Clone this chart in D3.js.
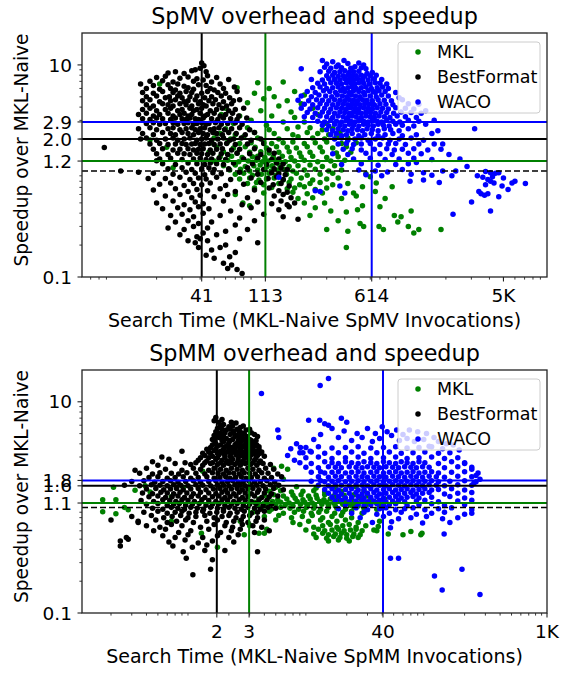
<!DOCTYPE html>
<html>
<head>
<meta charset="utf-8">
<script src="https://cdn.jsdelivr.net/npm/d3@7"></script>
<style>
body { margin: 0; background: #fff; }
svg { display: block; }
text { font-family: "DejaVu Sans", sans-serif; fill: #000; }
</style>
</head>
<body>
<script>
// series order: MKL, BestFormat, WACO
const seriesNames = ["MKL", "BestFormat", "WACO"];
const seriesColors = ["#008000", "#000000", "#0000ff"];

// ---------- SpMV panel ----------
const spmvMedX = [113, 41, 614];
const spmvMedY = [1.24, 2.0, 2.9];
const spmvXTicks = [41, 113, 614, 5000];
const spmvXLabels = ["41", "113", "614", "5K"];
const spmvYTicks = [0.1, 1.24, 2.0, 2.9, 10];
const spmvYLabels = ["0.1", "1.2", "2.0", "2.9", "10"];

const spmvMkl = [
[21,6.6],[100,6.8],[150,6.9],[72,6.1],[120,6.0],[180,5.6],[95,5.4],[210,5.2],[130,5.0],[110,4.8],[160,4.6],[85,4.4],[200,4.3],[140,4.1],[60,3.9],[240,3.9],[105,3.7],[170,3.6],[56,3.4],[75,3.3],[125,3.3],[260,3.4],[180,3.2],[90,3.0],[150,2.9],[210,2.9],[68,2.8],[300,2.8],[115,2.7],[190,2.6],[18,1.96],[23.5,1.67],[26,1.07],
[60,2.5],[85,2.55],[120,2.45],[160,2.5],[230,2.55],[280,2.45],[330,2.5],
[55,2.25],[70,2.2],[95,2.3],[130,2.25],[175,2.2],[220,2.3],[260,2.25],[310,2.2],[370,2.3],
[50,2.05],[65,2.0],[80,2.1],[100,2.05],[140,2.0],[190,2.1],[240,2.05],[290,2.0],[350,2.1],[420,2.05],
[48,1.85],[62,1.88],[75,1.82],[90,1.85],[110,1.88],[125,1.82],[150,1.85],[175,1.88],[210,1.82],[250,1.85],[300,1.88],[380,1.82],[480,1.85],
[52,1.67],[68,1.65],[82,1.69],[96,1.67],[115,1.65],[135,1.69],[160,1.67],[185,1.65],[220,1.69],[270,1.67],[330,1.65],[410,1.69],
[46,1.5],[58,1.52],[72,1.48],[88,1.5],[105,1.52],[120,1.48],[140,1.5],[165,1.52],[195,1.48],[230,1.5],[280,1.52],[350,1.48],[440,1.5],
[55,1.36],[66,1.38],[78,1.34],[92,1.36],[100,1.38],[112,1.34],[128,1.36],[148,1.38],[170,1.34],[200,1.36],[240,1.38],[300,1.34],[360,1.36],
[50,1.24],[62,1.26],[74,1.22],[86,1.24],[98,1.26],[108,1.22],[118,1.24],[132,1.26],[155,1.22],[180,1.24],[210,1.26],[260,1.22],[320,1.24],[400,1.26],
[58,1.12],[70,1.14],[82,1.1],[94,1.12],[104,1.14],[116,1.1],[126,1.12],[142,1.14],[165,1.1],[190,1.12],[230,1.14],[280,1.1],[340,1.12],
[64,1.02],[76,1.04],[88,1.0],[100,1.02],[112,1.04],[124,1.0],[138,1.02],[152,1.04],[175,1.0],[210,1.02],[250,1.04],[310,1.0],[380,1.02],
[70,0.93],[80,0.95],[92,0.91],[106,0.93],[120,0.95],[134,0.91],[158,0.93],[185,0.95],[220,0.91],[270,0.93],[330,0.95],
[75,0.84],[88,0.86],[102,0.82],[115,0.84],[130,0.86],[150,0.82],[170,0.84],[200,0.86],[240,0.82],[300,0.84],[360,0.86],
[85,0.76],[98,0.78],[110,0.74],[140,0.76],[165,0.78],[195,0.74],[230,0.76],[270,0.78],[330,0.74],[420,0.76],[660,0.77],
[95,0.69],[125,0.7],[160,0.68],[180,0.69],[210,0.71],[250,0.67],[300,0.69],[530,0.71],[850,0.71],[70,0.6],
[110,0.62],[175,0.63],[220,0.61],[280,0.62],[460,0.62],[650,0.64],
[190,0.55],[240,0.56],[480,0.58],[760,0.55],[380,0.55],
[79,0.5],[88,0.47],[210,0.5],[290,0.5],[530,0.47],
[320,0.42],[360,0.34],[410,0.41],[490,0.43],[510,0.32],[540,0.3],[300,0.28],[420,0.27],[410,0.19],[700,0.46],[740,0.28],[690,0.3],[880,0.38],[980,0.37],[1150,0.42],[930,0.33],[1100,0.3],[1200,0.26],[1300,0.28],[1850,0.28],[560,0.94],[600,0.88],[250,0.45],[230,0.38]
];

const spmvBest = [
[41,10.4],[42.5,9.8],[40,9.3],[37,9.0],[44,8.6],[24,8.4],[27,8.6],[31,8.3],[35,8.8],
[20,7.6],[23,7.8],[29,7.5],[33,7.7],[38,7.4],[45,7.9],[52,7.6],
[18,7.0],[22,7.1],[26,6.9],[36,7.0],[42,7.2],[48,6.9],[63,7.3],
[15.5,6.6],[19,6.4],[24,6.5],[28,6.6],[31,6.3],[39,6.5],[44,6.4],[55,6.6],[69,6.2],
[17,6.0],[21,5.9],[25,6.0],[27,5.8],[33,6.1],[36,5.9],[47,6.0],[50,5.8],[58,6.0],
[16,5.5],[19,5.4],[22,5.6],[26,5.5],[29,5.4],[32,5.6],[35,5.5],[41,5.4],[45,5.6],[53,5.5],[60,5.4],[72,5.6],
[17,5.0],[20,5.1],[23,4.9],[24.5,5.0],[28,5.1],[30,4.9],[34,5.0],[38,5.1],[43,4.9],[48,5.0],[56,5.1],[64,4.9],
[16,4.6],[18,4.7],[21,4.5],[25,4.6],[27,4.7],[31,4.5],[33,4.6],[37,4.7],[40,4.5],[46,4.6],[51,4.7],[58,4.5],[68,4.6],[75,4.7],
[17,4.2],[19,4.1],[22,4.3],[24,4.2],[26,4.1],[29,4.3],[32,4.2],[35,4.1],[39,4.3],[42,4.2],[44,4.1],[49,4.3],[54,4.2],[61,4.1],[66,4.3],
[16,3.8],[18,3.9],[20,3.7],[23,3.8],[25,3.9],[28,3.7],[30,3.8],[34,3.9],[36,3.7],[38,3.8],[41,3.9],[47,3.7],[52,3.8],[57,3.9],[63,3.7],[70,3.8],[80,3.9],
[15,3.4],[17,3.5],[19,3.3],[21,3.4],[24,3.5],[26,3.3],[29,3.4],[31,3.5],[33,3.3],[35,3.4],[40,3.5],[43,3.3],[45,3.4],[50,3.5],[55,3.3],[60,3.4],[67,3.5],[74,3.3],
[16,3.1],[18,3.05],[20,3.15],[22,3.1],[25,3.05],[27,3.15],[30,3.1],[32,3.05],[34,3.15],[37,3.1],[39,3.05],[42,3.15],[48,3.1],[53,3.05],[58,3.15],[65,3.1],[72,3.05],[84,3.15],
[17,2.8],[19,2.85],[21,2.75],[23,2.8],[26,2.85],[28,2.75],[31,2.8],[33,2.85],[36,2.75],[38,2.8],[41,2.85],[44,2.75],[46,2.8],[51,2.85],[56,2.75],[62,2.8],[70,2.85],[78,2.75],
[15,2.5],[18,2.55],[20,2.45],[24,2.5],[26,2.55],[29,2.45],[32,2.5],[35,2.55],[37,2.45],[40,2.5],[43,2.55],[47,2.45],[50,2.5],[54,2.55],[59,2.45],[66,2.5],[75,2.55],[88,2.45],
[16,2.25],[19,2.2],[22,2.3],[25,2.25],[27,2.2],[30,2.3],[33,2.25],[36,2.2],[39,2.3],[42,2.25],[45,2.2],[49,2.3],[52,2.25],[57,2.2],[63,2.3],[71,2.25],[82,2.2],[95,2.3],
[15.5,2.0],[17,2.05],[20,1.95],[23,2.0],[26,2.05],[28,1.95],[31,2.0],[34,2.05],[38,1.95],[41,2.0],[44,2.05],[48,1.95],[53,2.0],[58,2.05],[64,1.95],[68,2.0],[77,2.05],[90,1.95],[105,2.0],
[18,1.8],[21,1.82],[24,1.78],[27,1.8],[30,1.82],[32,1.78],[35,1.8],[37,1.82],[40,1.78],[43,1.8],[46,1.82],[50,1.78],[55,1.8],[61,1.82],[70,1.78],[85,1.8],[110,1.82],
[19,1.6],[22,1.62],[26,1.58],[29,1.6],[33,1.62],[36,1.58],[39,1.6],[42,1.62],[47,1.58],[52,1.6],[57,1.62],[66,1.58],[75,1.6],[95,1.62],[120,1.58],
[20,1.45],[24,1.43],[28,1.47],[31,1.45],[34,1.43],[38,1.47],[41,1.45],[45,1.43],[49,1.47],[56,1.45],[62,1.43],[72,1.47],[88,1.45],[105,1.43],[130,1.47],
[21,1.3],[25,1.32],[30,1.28],[36,1.3],[40,1.32],[44,1.28],[48,1.3],[54,1.32],[60,1.28],[80,1.3],[100,1.32],[125,1.28],[140,1.3],
[22,1.17],[27,1.15],[33,1.19],[38,1.17],[43,1.15],[47,1.19],[52,1.17],[58,1.15],[68,1.19],[92,1.17],[115,1.15],[135,1.19],[150,1.17],
[24,1.05],[30,1.07],[35,1.03],[41,1.05],[46,1.07],[50,1.03],[63,1.05],[85,1.07],[110,1.03],[130,1.05],[145,1.07],[160,1.03],
[8.7,1.66],[11.3,1.0],[15,0.97],[17.5,0.85],[20,1.25],
[19,0.95],[26,0.93],[32,0.97],[37,0.95],[43,0.92],[49,0.96],[56,0.94],[75,0.97],[100,0.93],[125,0.96],[140,0.94],[155,0.92],
[23,0.85],[29,0.87],[34,0.83],[39,0.86],[44,0.84],[52,0.87],[65,0.83],[90,0.86],[118,0.85],[135,0.88],[150,0.83],
[21,0.75],[25,0.77],[31,0.73],[36,0.76],[41,0.74],[47,0.77],[60,0.73],[80,0.75],[105,0.78],[128,0.74],[145,0.76],[165,0.72],
[19,0.66],[27,0.68],[33,0.64],[38,0.67],[45,0.65],[55,0.68],[70,0.64],[95,0.66],[120,0.69],[140,0.65],[160,0.63],
[23,0.58],[29,0.6],[35,0.56],[40,0.59],[50,0.57],[62,0.6],[85,0.56],[130,0.58],[150,0.6],[170,0.56],
[20,0.5],[26,0.52],[31,0.48],[37,0.51],[42,0.49],[58,0.52],[78,0.48],[100,0.51],[125,0.49],[145,0.52],[160,0.48],[180,0.5],
[22,0.44],[28,0.45],[34,0.43],[39,0.46],[46,0.44],[65,0.42],[90,0.45],[140,0.43],[165,0.46],
[25,0.38],[30,0.39],[36,0.37],[42,0.4],[55,0.38],[75,0.36],[110,0.39],[150,0.37],[190,0.35],
[27,0.33],[33,0.34],[39,0.32],[48,0.33],[70,0.31],[95,0.34],
[24,0.29],[31,0.28],[36,0.3],[45,0.29],[60,0.27],[85,0.28],
[29,0.25],[38,0.24],[42,0.26],[52,0.25],[75,0.23],
[33,0.22],[37,0.21],[40,0.23],[45,0.22],[60,0.2],[100,0.21],
[39,0.19],[48,0.18],[55,0.19],[70,0.17],
[44,0.16],[50,0.15],[64,0.155],
[58,0.135],[66,0.13],
[62,0.12],[72,0.118],[78,0.108]
];

const spmvWaco = [
[280,11.0],[330,10.7],[395,11.0],
[300,10.2],[360,10.0],[420,10.3],[500,10.4],[540,10.0],
[200,9.2],[290,9.5],[320,9.3],[350,9.6],[380,9.4],[440,9.3],[470,9.6],[520,9.4],[560,9.2],
[270,8.6],[310,8.7],[340,8.5],[370,8.6],[400,8.8],[430,8.5],[460,8.6],[500,8.7],[570,8.3],[620,8.5],
[300,7.9],[330,8.0],[360,7.8],[390,7.9],[420,8.0],[450,7.8],[480,7.9],[520,8.0],[550,7.8],[600,7.9],[660,8.0],
[235,7.3],[280,7.2],[310,7.4],[340,7.3],[370,7.2],[400,7.4],[430,7.3],[460,7.2],[490,7.4],[530,7.3],[580,7.2],[640,7.4],[720,7.3],
[260,6.7],[290,6.6],[320,6.8],[350,6.7],[380,6.6],[410,6.8],[440,6.7],[470,6.6],[500,6.8],[540,6.7],[590,6.6],[650,6.8],[700,6.7],[780,6.6],
[240,6.1],[270,6.2],[300,6.0],[330,6.1],[360,6.2],[390,6.0],[420,6.1],[450,6.2],[480,6.0],[520,6.1],[560,6.2],[610,6.0],[670,6.1],[730,6.2],[800,6.0],
[220,5.6],[250,5.5],[285,5.7],[315,5.6],[345,5.5],[375,5.7],[400,5.6],[430,5.5],[460,5.7],[500,5.6],[540,5.5],[580,5.7],[630,5.6],[650,5.5],[690,5.7],[760,5.6],[900,5.5],
[200,5.1],[235,5.0],[265,5.2],[295,5.1],[325,5.0],[355,5.2],[385,5.1],[415,5.0],[445,5.2],[475,5.1],[510,5.0],[550,5.2],[600,5.1],[660,5.0],[720,5.2],[800,5.1],[950,4.9],
[190,4.65],[225,4.6],[255,4.7],[280,4.65],[310,4.6],[340,4.7],[370,4.65],[400,4.6],[430,4.7],[460,4.65],[490,4.6],[530,4.7],[570,4.65],[620,4.6],[680,4.7],[750,4.65],[840,4.6],[1000,4.7],
[210,4.25],[240,4.2],[270,4.3],[300,4.25],[330,4.2],[360,4.3],[390,4.25],[420,4.2],[450,4.3],[480,4.25],[510,4.2],[550,4.3],[590,4.25],[640,4.2],[700,4.3],[770,4.25],[860,4.2],[1100,4.3],[1300,4.25],
[200,3.9],[230,3.85],[260,3.95],[290,3.9],[320,3.85],[350,3.95],[380,3.9],[410,3.85],[440,3.95],[470,3.9],[500,3.85],[540,3.95],[580,3.9],[620,3.85],[670,3.95],[730,3.9],[800,3.85],[900,3.95],[1050,3.9],[1200,3.85],[1450,3.7],
[220,3.55],[250,3.5],[280,3.6],[310,3.55],[340,3.5],[370,3.6],[400,3.55],[430,3.5],[460,3.6],[490,3.55],[520,3.5],[560,3.6],[600,3.55],[650,3.5],[710,3.6],[780,3.55],[870,3.5],[980,3.6],[1150,3.55],[1350,3.5],
[210,3.25],[240,3.2],[270,3.3],[300,3.25],[330,3.2],[360,3.3],[390,3.25],[420,3.2],[450,3.3],[480,3.25],[520,3.2],[560,3.3],[600,3.25],[640,3.2],[690,3.3],[750,3.25],[820,3.2],[920,3.3],[1050,3.25],[1250,3.2],[1660,3.0],
[260,2.95],[290,2.9],[320,3.0],[350,2.95],[380,2.9],[410,3.0],[440,2.95],[470,2.9],[500,3.0],[540,2.95],[580,2.9],[620,3.0],[670,2.95],[720,2.9],[780,3.0],[860,2.95],[960,2.9],[1100,3.0],[1300,2.95],
[280,2.7],[310,2.65],[340,2.75],[370,2.7],[400,2.65],[430,2.75],[460,2.7],[500,2.65],[540,2.75],[580,2.7],[630,2.65],[680,2.75],[740,2.7],[810,2.65],[900,2.75],[1000,2.7],[1200,2.65],[1450,2.75],[3160,2.5],
[300,2.45],[330,2.4],[360,2.5],[390,2.45],[420,2.4],[450,2.5],[490,2.45],[530,2.4],[570,2.5],[620,2.45],[680,2.4],[750,2.5],[830,2.45],[950,2.4],[1100,2.5],[1760,2.4],
[320,2.2],[350,2.25],[380,2.15],[410,2.2],[450,2.25],[500,2.15],[550,2.2],[610,2.25],[680,2.15],[760,2.2],[860,2.25],[1000,2.15],[1250,2.2],[1600,2.25],
[340,2.0],[380,2.05],[420,1.95],[470,2.0],[520,2.05],[580,1.95],[650,2.0],[730,2.05],[820,1.95],[950,2.0],[1150,2.05],[1400,1.95],
[360,1.8],[410,1.82],[460,1.78],[520,1.8],[600,1.82],[700,1.78],[800,1.8],[900,1.82],[1050,1.78],[1300,1.8],[1660,1.8],[1900,1.8],
[390,1.6],[450,1.62],[520,1.58],[640,1.6],[780,1.62],[880,1.58],[1000,1.6],[1200,1.62],[1500,1.58],[1850,1.6],
[330,1.45],[420,1.43],[560,1.47],[700,1.45],[850,1.43],[1100,1.47],[1350,1.45],[2100,1.43],
[460,1.3],[600,1.32],[760,1.28],[950,1.3],[1200,1.32],[1600,1.28],[2500,1.3],
[380,1.15],[520,1.17],[680,1.13],[900,1.15],[1100,1.17],[1250,1.2],[2800,1.1],
[500,1.02],[650,1.0],[790,0.98],[1000,1.03],[1400,0.96],[1900,1.0],[2340,1.0],
[140,0.87],[560,0.92],[720,0.9],[1150,0.93],[1600,0.91],[2200,0.9],
[1130,0.8],[1400,0.82],[1800,0.78],[250,0.65],[270,0.64],[400,0.62],[370,0.72],
[3380,0.64],[3760,0.99],[3760,0.74],[4070,0.96],[4400,0.95],[4640,0.96],[3600,0.87],[3900,0.83],[4070,0.8],[4300,0.77],[4890,0.72],[5380,0.67],[5730,0.77],[7090,0.76],[4640,0.57],[4070,0.42],[3010,0.51],[2240,0.39],[3700,0.59],[3900,0.61],[3500,0.61],[3300,0.9],[4200,0.88],[5000,0.86],[6000,0.8]
];

// ---------- SpMM panel ----------
const spmmMedX = [2.97, 1.58, 40.6];
const spmmMedY = [1.1, 1.6, 1.8];
const spmmXTicks = [1.58, 2.97, 40.6, 1000];
const spmmXLabels = ["2", "3", "40", "1K"];
const spmmYTicks = [0.1, 1.1, 1.6, 1.8, 10];
const spmmYLabels = ["0.1", "1.1", "1.6", "1.8", "10"];

const spmmMkl = [
[0.17,1.18],[0.17,0.91],[0.21,1.55],[0.22,1.18],[0.22,0.87],[0.26,1.0],[0.28,0.95],[0.32,1.45],[0.39,1.6],[0.43,1.4],[0.65,0.74],[0.65,1.26],[0.82,1.55],[1.2,2.2],[1.17,0.57],[1.6,0.42],[2.7,0.55],[3.0,0.68],[3.6,0.57],[4.0,0.57],[4.2,0.62],[4.8,2.35],[5.6,2.45],[6.3,2.3],[5.8,1.85],
[5.0,1.55],[7.5,1.57],[11,1.53],[16,1.55],[24,1.57],
[4.4,1.42],[5.5,1.44],[6.8,1.4],[8.5,1.42],[10.5,1.44],[13,1.4],[18,1.42],[28,1.44],
[4.0,1.3],[4.8,1.32],[5.8,1.28],[7.0,1.3],[8.2,1.32],[9.5,1.28],[11,1.3],[13,1.32],[15.5,1.28],[19,1.3],[23,1.32],[30,1.28],
[3.6,1.2],[4.3,1.22],[5.2,1.18],[6.2,1.2],[7.3,1.22],[8.5,1.18],[9.8,1.2],[11.2,1.22],[12.8,1.18],[14.5,1.2],[16.5,1.22],[19,1.18],[22,1.2],[26,1.22],[32,1.18],[42,1.2],
[3.3,1.12],[4.0,1.1],[4.7,1.14],[5.5,1.12],[6.5,1.1],[7.6,1.14],[8.8,1.12],[10.2,1.1],[11.8,1.14],[13.5,1.12],[15.5,1.1],[17.5,1.14],[20,1.12],[23,1.1],[27,1.14],[35,1.12],
[3.5,1.05],[4.2,1.03],[5.0,1.07],[6.0,1.05],[7.0,1.03],[8.1,1.07],[9.3,1.05],[10.7,1.03],[12.3,1.07],[14,1.05],[16,1.03],[18.5,1.07],[21.5,1.05],[25,1.03],[30,1.07],[38,1.05],
[3.8,0.98],[4.6,0.96],[5.5,1.0],[6.6,0.98],[7.8,0.96],[9.1,1.0],[10.5,0.98],[12,0.96],[14,1.0],[16.5,0.98],[19.5,0.96],[23,1.0],[28,0.98],[36,0.96],
[3.2,0.9],[4.4,0.92],[5.8,0.88],[7.2,0.9],[8.6,0.92],[10,0.88],[11.6,0.9],[13.5,0.92],[15.8,0.88],[18.5,0.9],[22,0.92],[27,0.88],
[4.0,0.82],[5.3,0.84],[6.8,0.8],[8.4,0.82],[10.2,0.84],[12.5,0.8],[15,0.82],[18,0.84],[22,0.8],
[2.5,0.74],[5.0,0.76],[7.0,0.72],[9.5,0.74],[12,0.76],[14,0.72],[16.5,0.74],[19.5,0.76],[25,0.72],[38,0.74],
[3.0,0.67],[8.0,0.69],[10.5,0.65],[12.5,0.67],[14.5,0.69],[16.5,0.65],[18.5,0.67],[21,0.69],[24,0.65],[29,0.67],[37,0.66],
[9.0,0.61],[11.5,0.62],[13,0.6],[15,0.61],[17,0.62],[19,0.6],[21.5,0.61],[24,0.62],[27,0.6],[34,0.61],[70,0.59],[87,0.57],
[10.5,0.56],[12.5,0.57],[14,0.55],[16,0.56],[18,0.57],[20,0.55],[23,0.56],[26,0.55],[36,0.6],[45,0.56],[60,0.55],[85,0.55],
[11,0.52],[13.5,0.51],[15.5,0.53],[17.5,0.52],[20,0.51],[22.5,0.53],[25,0.52],
[14,0.48],[17,0.49],[21,0.48]
];

const spmmBest = [
[1.55,7.1],[1.5,6.6],[1.75,6.8],[1.8,6.1],[2.3,6.3],[1.65,6.4],[2.1,6.4],
[1.6,5.6],[2.0,5.8],[2.5,5.7],[1.7,5.9],[2.15,5.9],[2.65,5.9],
[1.75,5.5],[2.05,5.5],[2.35,5.5],[3.0,5.5],
[1.55,5.2],[1.9,5.4],[2.2,5.3],[2.45,5.2],[2.8,5.4],
[1.6,5.1],[1.85,5.1],[2.2,5.1],[2.55,5.1],[3.1,5.1],
[1.5,4.8],[1.7,5.0],[2.05,4.9],[2.35,4.8],[2.7,5.0],[3.3,4.9],
[1.55,4.7],[1.8,4.7],[2.25,4.7],[2.55,4.7],[2.85,4.7],[3.5,4.7],
[1.45,4.4],[1.65,4.6],[1.9,4.5],[2.15,4.4],[2.45,4.6],[2.65,4.5],[3.0,4.4],
[1.5,4.3],[1.75,4.3],[2.05,4.3],[2.4,4.3],[2.75,4.3],[3.1,4.3],[3.4,4.3],
[1.55,4.0],[1.8,4.2],[2.0,4.1],[2.3,4.0],[2.55,4.2],[2.85,4.1],[3.2,4.0],
[1.45,3.9],[1.7,3.9],[1.95,3.9],[2.25,3.9],[2.5,3.9],[2.75,3.9],[3.05,3.9],[3.45,3.9],
[1.4,3.7],[1.6,3.8],[1.85,3.75],[2.1,3.7],[2.35,3.8],[2.6,3.75],[2.9,3.7],[3.3,3.8],[3.6,3.75],
[1.3,3.55],[1.55,3.55],[1.8,3.55],[2.0,3.55],[2.25,3.55],[2.5,3.55],[2.8,3.55],[3.15,3.55],[3.6,3.55],
[0.8,3.4],[1.35,3.35],[1.5,3.45],[1.7,3.4],[1.95,3.35],[2.2,3.45],[2.45,3.4],[2.7,3.35],[3.0,3.45],[3.4,3.4],[3.8,3.35],
[1.2,3.25],[1.4,3.25],[1.6,3.25],[1.8,3.25],[2.1,3.25],[2.35,3.25],[2.6,3.25],[2.9,3.25],[3.25,3.25],[3.7,3.25],
[0.54,3.0],[1.25,3.1],[1.45,3.05],[1.65,3.15],[1.85,3.1],[2.05,3.05],[2.3,3.15],[2.55,3.1],[2.8,3.05],[3.1,3.15],[3.5,3.1],[4.0,3.05],
[1.15,2.95],[1.35,2.95],[1.6,2.95],[1.85,2.95],[2.1,2.95],[2.4,2.95],[2.7,2.95],[3.0,2.95],[3.4,2.95],
[0.45,2.7],[0.62,2.85],[1.1,2.8],[1.3,2.75],[1.55,2.85],[1.75,2.8],[1.95,2.75],[2.15,2.85],[2.4,2.8],[2.65,2.75],[2.95,2.85],[3.3,2.8],[3.7,2.75],
[0.85,2.65],[1.05,2.65],[1.25,2.65],[1.45,2.65],[1.7,2.65],[1.9,2.65],[2.1,2.65],[2.35,2.65],[2.6,2.65],[2.9,2.65],[3.2,2.65],[3.6,2.65],
[0.5,2.5],[0.7,2.6],[0.95,2.55],[1.2,2.5],[1.4,2.6],[1.6,2.55],[1.8,2.5],[2.0,2.6],[2.25,2.55],[2.5,2.5],[2.75,2.6],[3.05,2.55],[3.45,2.5],[3.9,2.6],[4.5,2.55],
[0.32,2.25],[0.4,2.35],[0.58,2.3],[0.8,2.25],[1.0,2.35],[1.15,2.3],[1.35,2.25],[1.5,2.35],[1.7,2.3],[1.9,2.25],[2.1,2.35],[2.35,2.3],[2.6,2.25],[2.9,2.35],[3.2,2.3],[3.6,2.25],[4.1,2.35],[4.8,2.3],
[0.35,2.1],[0.45,2.07],[0.52,2.13],[0.65,2.1],[0.75,2.07],[0.88,2.13],[1.05,2.1],[1.25,2.07],[1.45,2.13],[1.62,2.1],[1.8,2.07],[2.0,2.13],[2.2,2.1],[2.45,2.07],[2.7,2.13],[3.0,2.1],[3.35,2.07],[3.8,2.13],[4.3,2.1],[5.2,2.07],
[0.42,1.92],[0.5,1.95],[0.6,1.89],[0.7,1.92],[0.82,1.95],[0.95,1.89],[1.1,1.92],[1.3,1.95],[1.5,1.89],[1.68,1.92],[1.88,1.95],[2.05,1.89],[2.28,1.92],[2.55,1.95],[2.8,1.89],[3.1,1.92],[3.5,1.95],[4.0,1.89],[4.6,1.92],[5.6,1.95],
[0.3,1.76],[0.38,1.79],[0.47,1.73],[0.55,1.76],[0.64,1.79],[0.74,1.73],[0.86,1.76],[1.0,1.79],[1.15,1.73],[1.35,1.76],[1.55,1.79],[1.75,1.73],[1.95,1.76],[2.15,1.79],[2.4,1.73],[2.65,1.76],[2.95,1.79],[3.3,1.73],[3.7,1.76],[4.2,1.79],[4.9,1.73],
[0.26,1.62],[0.35,1.6],[0.44,1.64],[0.52,1.62],[0.6,1.6],[0.68,1.64],[0.78,1.62],[0.9,1.6],[1.05,1.64],[1.2,1.62],[1.4,1.6],[1.6,1.64],[1.8,1.62],[2.0,1.6],[2.25,1.64],[2.5,1.62],[2.75,1.6],[3.05,1.64],[3.45,1.62],[3.9,1.6],[4.5,1.64],[5.3,1.62],
[0.4,1.49],[0.48,1.51],[0.56,1.47],[0.64,1.49],[0.72,1.51],[0.82,1.47],[0.95,1.49],[1.1,1.51],[1.28,1.47],[1.48,1.49],[1.68,1.51],[1.88,1.47],[2.1,1.49],[2.35,1.51],[2.6,1.47],[2.9,1.49],[3.2,1.51],[3.6,1.47],[4.1,1.49],[4.8,1.51],[5.8,1.47],
[0.37,1.37],[0.45,1.35],[0.53,1.39],[0.6,1.37],[0.68,1.35],[0.77,1.39],[0.88,1.37],[1.0,1.35],[1.15,1.39],[1.35,1.37],[1.55,1.35],[1.75,1.39],[1.95,1.37],[2.2,1.35],[2.45,1.39],[2.75,1.37],[3.1,1.35],[3.5,1.39],[4.0,1.37],[4.6,1.35],
[0.42,1.26],[0.5,1.28],[0.58,1.24],[0.66,1.26],[0.74,1.28],[0.84,1.24],[0.96,1.26],[1.1,1.28],[1.25,1.24],[1.45,1.26],[1.65,1.28],[1.85,1.24],[2.05,1.26],[2.3,1.28],[2.6,1.24],[2.9,1.26],[3.3,1.28],[3.8,1.24],[4.4,1.26],[5.2,1.28],
[0.36,1.16],[0.46,1.14],[0.55,1.18],[0.63,1.16],[0.71,1.14],[0.8,1.18],[0.9,1.16],[1.02,1.14],[1.18,1.18],[1.35,1.16],[1.55,1.14],[1.75,1.18],[1.95,1.16],[2.2,1.14],[2.45,1.18],[2.75,1.16],[3.1,1.14],[3.6,1.18],[4.2,1.16],
[0.4,1.07],[0.5,1.09],[0.6,1.05],[0.68,1.07],[0.76,1.09],[0.86,1.05],[0.98,1.07],[1.12,1.09],[1.28,1.05],[1.45,1.07],[1.65,1.09],[1.85,1.05],[2.1,1.07],[2.35,1.09],[2.65,1.05],[3.0,1.07],[3.4,1.09],[3.9,1.05],[4.6,1.07],
[0.45,0.98],[0.55,0.96],[0.65,1.0],[0.74,0.98],[0.84,0.96],[0.95,1.0],[1.08,0.98],[1.22,0.96],[1.4,1.0],[1.6,0.98],[1.8,0.96],[2.0,1.0],[2.25,0.98],[2.55,0.96],[2.9,1.0],[3.3,0.98],[3.7,0.96],[4.3,1.0],[5.0,0.98],
[0.38,0.9],[0.5,0.92],[0.6,0.88],[0.7,0.9],[0.8,0.92],[0.92,0.88],[1.05,0.9],[1.2,0.92],[1.38,0.88],[1.58,0.9],[1.8,0.92],[2.05,0.88],[2.35,0.9],[2.7,0.92],[3.1,0.88],[3.5,0.9],[4.0,0.92],
[0.3,0.82],[0.44,0.84],[0.56,0.8],[0.66,0.82],[0.78,0.84],[0.9,0.8],[1.05,0.82],[1.25,0.84],[1.5,0.8],[1.75,0.82],[2.0,0.84],[2.3,0.8],[2.65,0.82],[3.0,0.84],[3.5,0.8],
[0.34,0.74],[0.48,0.76],[0.6,0.72],[0.72,0.74],[0.86,0.76],[1.0,0.72],[1.3,0.74],[1.6,0.76],[1.9,0.72],[2.2,0.74],[2.55,0.76],[2.9,0.72],[3.4,0.74],[4.0,0.76],
[0.4,0.67],[0.52,0.65],[0.65,0.69],[0.8,0.67],[1.15,0.65],[1.5,0.69],[1.85,0.67],[2.15,0.65],[2.6,0.69],[3.2,0.67],[3.8,0.65],
[0.46,0.6],[0.58,0.62],[0.75,0.58],[0.95,0.6],[1.35,0.62],[1.7,0.58],[2.1,0.6],[2.5,0.62],[3.3,0.58],[4.4,0.6],
[0.27,0.52],[0.55,0.54],[0.7,0.52],[0.9,0.55],[1.2,0.52],[1.6,0.54],[2.0,0.52],[2.4,0.55],
[0.24,0.48],[0.62,0.47],[0.85,0.49],[1.1,0.46],[1.45,0.48],[2.2,0.47],
[0.24,0.43],[0.67,0.43],[0.98,0.42],[1.3,0.44],
[0.82,0.38],[1.25,0.39],[1.85,0.39],[3.5,0.38],
[0.87,0.33],[1.45,0.32],[1.4,0.26],[0.99,0.23],
[0.2,0.76],[0.34,0.72],[0.28,0.5]
];

const spmmWaco = [
[3.78,12],[11.9,14.3],[14,16.6],[5.2,5.4],[5.3,4.6],[6.7,3.6],[6.3,3.1],[7.2,2.8],[8.5,3.3],[9.5,6.7],[11.8,6.7],[13,6.2],[14,6.0],[18,7.0],[20,6.4],[24.5,5.0],[35,5.0],[44,5.2],[53,5.4],[68,5.4],[80,5.2],[95,5.0],[110,4.6],[8.1,3.7],[9.8,3.4],[15,5.6],[17,4.6],[19,5.3],[30,5.6],[40,5.8],[48,4.8],[60,4.9],[120,4.2],[140,4.0],[160,3.9],[7.5,4.0],[10.5,4.4],[12,4.9],[22,4.3],[27,4.6],[33,4.2],[38,4.5],[56,4.3],[65,4.5],[75,4.2],[90,4.4],[100,3.8],[130,3.6],[180,3.5],[200,2.6],[230,2.3],[250,2.0],[270,1.85],[240,1.7],
[9,3.7],[11.5,3.75],[15,3.65],[19.5,3.7],[25,3.75],[32,3.65],[41,3.7],[52,3.75],[65,3.65],[82,3.7],[105,3.75],
[8,3.3],[10,3.35],[13,3.25],[17,3.3],[22,3.35],[28,3.25],[36,3.3],[46,3.35],[58,3.25],[73,3.3],[92,3.35],[120,3.25],[150,3.3],
[9,2.95],[11.5,3.0],[15,2.9],[19.5,2.95],[25,3.0],[32,2.9],[41,2.95],[52,3.0],[65,2.9],[82,2.95],[105,3.0],[135,2.9],[175,2.95],
[8,2.65],[10,2.6],[13,2.7],[15,2.65],[17,2.6],[19.5,2.7],[22,2.65],[25,2.6],[28,2.7],[32,2.65],[36,2.6],[41,2.7],[46,2.65],[52,2.6],[58,2.7],[65,2.65],[73,2.6],[82,2.7],[92,2.65],[120,2.6],[155,2.7],[200,2.65],
[9,2.4],[11.5,2.37],[14,2.43],[16,2.4],[18,2.37],[21,2.43],[24,2.4],[27,2.37],[30,2.43],[34,2.4],[38,2.37],[43,2.43],[49,2.4],[55,2.37],[62,2.43],[70,2.4],[78,2.37],[88,2.43],[100,2.4],[135,2.37],[175,2.43],[230,2.4],
[10,2.15],[12,2.18],[13,2.12],[15,2.15],[17,2.18],[19.5,2.12],[22,2.15],[25,2.18],[28,2.12],[32,2.15],[36,2.18],[41,2.12],[46,2.15],[52,2.18],[58,2.12],[65,2.15],[73,2.18],[82,2.12],[92,2.15],[105,2.18],[120,2.12],[155,2.15],[200,2.18],[260,2.12],
[11.5,1.95],[14,1.93],[16,1.97],[18,1.95],[21,1.93],[24,1.97],[27,1.95],[30,1.93],[34,1.97],[38,1.95],[43,1.93],[49,1.97],[55,1.95],[62,1.93],[70,1.97],[78,1.95],[88,1.93],[100,1.97],[115,1.95],[135,1.93],[175,1.97],[230,1.95],
[10,1.77],[12,1.79],[13,1.75],[15,1.77],[17,1.79],[19.5,1.75],[22,1.77],[25,1.79],[28,1.75],[32,1.77],[36,1.79],[41,1.75],[46,1.77],[52,1.79],[58,1.75],[65,1.77],[73,1.79],[82,1.75],[92,1.77],[105,1.79],[120,1.75],[150,1.77],[200,1.79],[250,1.75],
[11.5,1.62],[14,1.6],[16,1.64],[18,1.62],[21,1.6],[24,1.64],[27,1.62],[30,1.6],[34,1.64],[38,1.62],[43,1.6],[49,1.64],[55,1.62],[62,1.6],[70,1.64],[78,1.62],[88,1.6],[100,1.64],[115,1.62],[135,1.6],[175,1.64],[230,1.62],
[13,1.48],[15,1.5],[17,1.46],[19.5,1.48],[22,1.5],[25,1.46],[28,1.48],[32,1.5],[36,1.46],[41,1.48],[46,1.5],[52,1.46],[58,1.48],[65,1.5],[73,1.46],[82,1.48],[92,1.5],[105,1.46],[120,1.48],[155,1.5],[200,1.46],
[14,1.36],[16,1.38],[18,1.34],[21,1.36],[24,1.38],[27,1.34],[30,1.36],[34,1.38],[38,1.34],[43,1.36],[49,1.38],[55,1.34],[62,1.36],[70,1.38],[78,1.34],[88,1.36],[100,1.38],[135,1.34],[175,1.36],[230,1.38],
[15,1.25],[17,1.27],[19.5,1.23],[22,1.25],[25,1.27],[28,1.23],[32,1.25],[36,1.27],[41,1.23],[46,1.25],[52,1.27],[58,1.23],[65,1.25],[73,1.27],[82,1.23],[105,1.25],[150,1.27],[200,1.23],
[16,1.15],[18,1.17],[21,1.13],[24,1.15],[27,1.17],[30,1.13],[34,1.15],[38,1.17],[43,1.13],[49,1.15],[55,1.17],[62,1.13],[78,1.15],[92,1.17],[120,1.13],[175,1.15],[230,1.17],
[19.5,1.06],[25,1.08],[28,1.04],[32,1.06],[36,1.08],[41,1.04],[46,1.06],[52,1.08],[65,1.04],[82,1.06],[105,1.08],[135,1.04],[200,1.06],
[17,0.97],[24,0.99],[30,0.95],[38,0.97],[43,0.99],[52,0.95],[62,0.97],[73,0.99],[92,0.95],[120,0.97],[155,0.99],[230,0.95],
[22,0.88],[28,0.9],[36,0.86],[46,0.88],[58,0.9],[78,0.86],[105,0.88],[135,0.9],[200,0.86],[230,0.88],
[26,0.8],[41,0.82],[55,0.78],[70,0.8],[95,0.82],[130,0.78],[175,0.8],
[33,0.72],[48,0.73],[88,0.71],[150,0.72],[47,0.64],[134,0.56],
[47,0.33],[55,0.33],[111,0.224],[129,0.165],[190,0.26],[270,0.15]
];

// ---------- layout ----------
const W = 572, H = 673;
const plotLeft = 82, plotRight = 547;
const dotR = 2.75;
const panels = [
  { title: "SpMV overhead and speedup", xlabel: "Search Time (MKL-Naive SpMV Invocations)",
    top: 33, bottom: 277, xDomain: [6.1, 10000],
    data: [spmvMkl, spmvBest, spmvWaco], medX: spmvMedX, medY: spmvMedY,
    xTicks: spmvXTicks, xLabels: spmvXLabels, yTicks: spmvYTicks, yLabels: spmvYLabels },
  { title: "SpMM overhead and speedup", xlabel: "Search Time (MKL-Naive SpMM Invocations)",
    top: 370, bottom: 613, xDomain: [0.1135, 1000],
    data: [spmmMkl, spmmBest, spmmWaco], medX: spmmMedX, medY: spmmMedY,
    xTicks: spmmXTicks, xLabels: spmmXLabels, yTicks: spmmYTicks, yLabels: spmmYLabels }
];

const svg = d3.select("body").append("svg").attr("width", W).attr("height", H);
const defs = svg.append("defs");

function isDecade(v) {
  const m = v / Math.pow(10, Math.floor(Math.log10(v) + 1e-9));
  return Math.abs(m - 1) < 1e-6;
}

panels.forEach((p, pi) => {
  const x = d3.scaleLog().domain(p.xDomain).range([plotLeft, plotRight]);
  const y = d3.scaleLog().domain([0.1, 20]).range([p.bottom, p.top]);
  const g = svg.append("g");

  defs.append("clipPath").attr("id", "clip" + pi)
    .append("rect").attr("x", plotLeft).attr("y", p.top)
    .attr("width", plotRight - plotLeft).attr("height", p.bottom - p.top);

  const pts = g.append("g").attr("clip-path", `url(#clip${pi})`);
  p.data.forEach((ser, si) => {
    pts.append("g").selectAll("circle")
      .data(ser)
      .join("circle")
        .attr("cx", d => x(d[0]))
        .attr("cy", d => y(d[1]))
        .attr("r", dotR)
        .attr("fill", seriesColors[si]);
  });

  // median lines
  const lines = g.append("g");
  p.medX.forEach((v, i) => {
    lines.append("line")
      .attr("x1", x(v)).attr("x2", x(v)).attr("y1", p.top).attr("y2", p.bottom)
      .attr("stroke", seriesColors[i]).attr("stroke-width", 2);
  });
  p.medY.forEach((v, i) => {
    lines.append("line")
      .attr("x1", plotLeft).attr("x2", plotRight).attr("y1", y(v)).attr("y2", y(v))
      .attr("stroke", seriesColors[i]).attr("stroke-width", 2);
  });
  lines.append("line")
    .attr("x1", plotLeft).attr("x2", plotRight).attr("y1", y(1)).attr("y2", y(1))
    .attr("stroke", "#000").attr("stroke-width", 1.5).attr("stroke-dasharray", "6,3");

  // frame
  g.append("rect").attr("x", plotLeft).attr("y", p.top)
    .attr("width", plotRight - plotLeft).attr("height", p.bottom - p.top)
    .attr("fill", "none").attr("stroke", "#222").attr("stroke-width", 1.3);

  // minor ticks (2..9 x 10^k)
  const xMinor = x.ticks().filter(v => !isDecade(v));
  const yMinor = y.ticks().filter(v => !isDecade(v) && v < 20);
  g.append("g").selectAll("line").data(xMinor).join("line")
    .attr("x1", d => x(d)).attr("x2", d => x(d))
    .attr("y1", p.bottom).attr("y2", p.bottom + 2.6)
    .attr("stroke", "#222").attr("stroke-width", 0.9);
  g.append("g").selectAll("line").data(yMinor).join("line")
    .attr("y1", d => y(d)).attr("y2", d => y(d))
    .attr("x1", plotLeft).attr("x2", plotLeft - 2.6)
    .attr("stroke", "#222").attr("stroke-width", 0.9);

  // major ticks + labels
  g.append("g").selectAll("line").data(p.xTicks).join("line")
    .attr("x1", d => x(d)).attr("x2", d => x(d))
    .attr("y1", p.bottom).attr("y2", p.bottom + 4.5)
    .attr("stroke", "#222").attr("stroke-width", 1.1);
  g.append("g").selectAll("text").data(p.xTicks).join("text")
    .attr("x", d => x(d)).attr("y", p.bottom + 25)
    .attr("text-anchor", "middle").attr("font-size", 18.5)
    .text((d, i) => p.xLabels[i]);

  g.append("g").selectAll("line").data(p.yTicks).join("line")
    .attr("y1", d => y(d)).attr("y2", d => y(d))
    .attr("x1", plotLeft).attr("x2", plotLeft - 4.5)
    .attr("stroke", "#222").attr("stroke-width", 1.1);
  g.append("g").selectAll("text").data(p.yTicks).join("text")
    .attr("x", plotLeft - 10).attr("y", d => y(d))
    .attr("dy", "0.36em")
    .attr("text-anchor", "end").attr("font-size", 18.5)
    .text((d, i) => p.yLabels[i]);

  // titles
  const cx = (plotLeft + plotRight) / 2;
  g.append("text").attr("x", cx).attr("y", p.top - 9)
    .attr("text-anchor", "middle").attr("font-size", 22.3).text(p.title);
  g.append("text").attr("x", cx).attr("y", p.bottom + 50)
    .attr("text-anchor", "middle").attr("font-size", 19).text(p.xlabel);
  g.append("text")
    .attr("transform", `translate(28,${(p.top + p.bottom) / 2 - 5}) rotate(-90)`)
    .attr("text-anchor", "middle").attr("font-size", 18.6).text("Speedup over MKL-Naive");

  // legend
  const lg = g.append("g").attr("transform", `translate(398,${p.top + 9})`);
  lg.append("rect").attr("width", 142).attr("height", 71).attr("rx", 3)
    .attr("fill", "#fff").attr("fill-opacity", 0.8)
    .attr("stroke", "#cccccc").attr("stroke-width", 1);
  seriesNames.forEach((name, i) => {
    lg.append("circle").attr("cx", 20).attr("cy", 10 + i * 25).attr("r", dotR)
      .attr("fill", seriesColors[i]);
    lg.append("text").attr("x", 39).attr("y", 10 + i * 25).attr("dy", "0.36em")
      .attr("font-size", 17.5).text(name);
  });
});
</script>
</body>
</html>
